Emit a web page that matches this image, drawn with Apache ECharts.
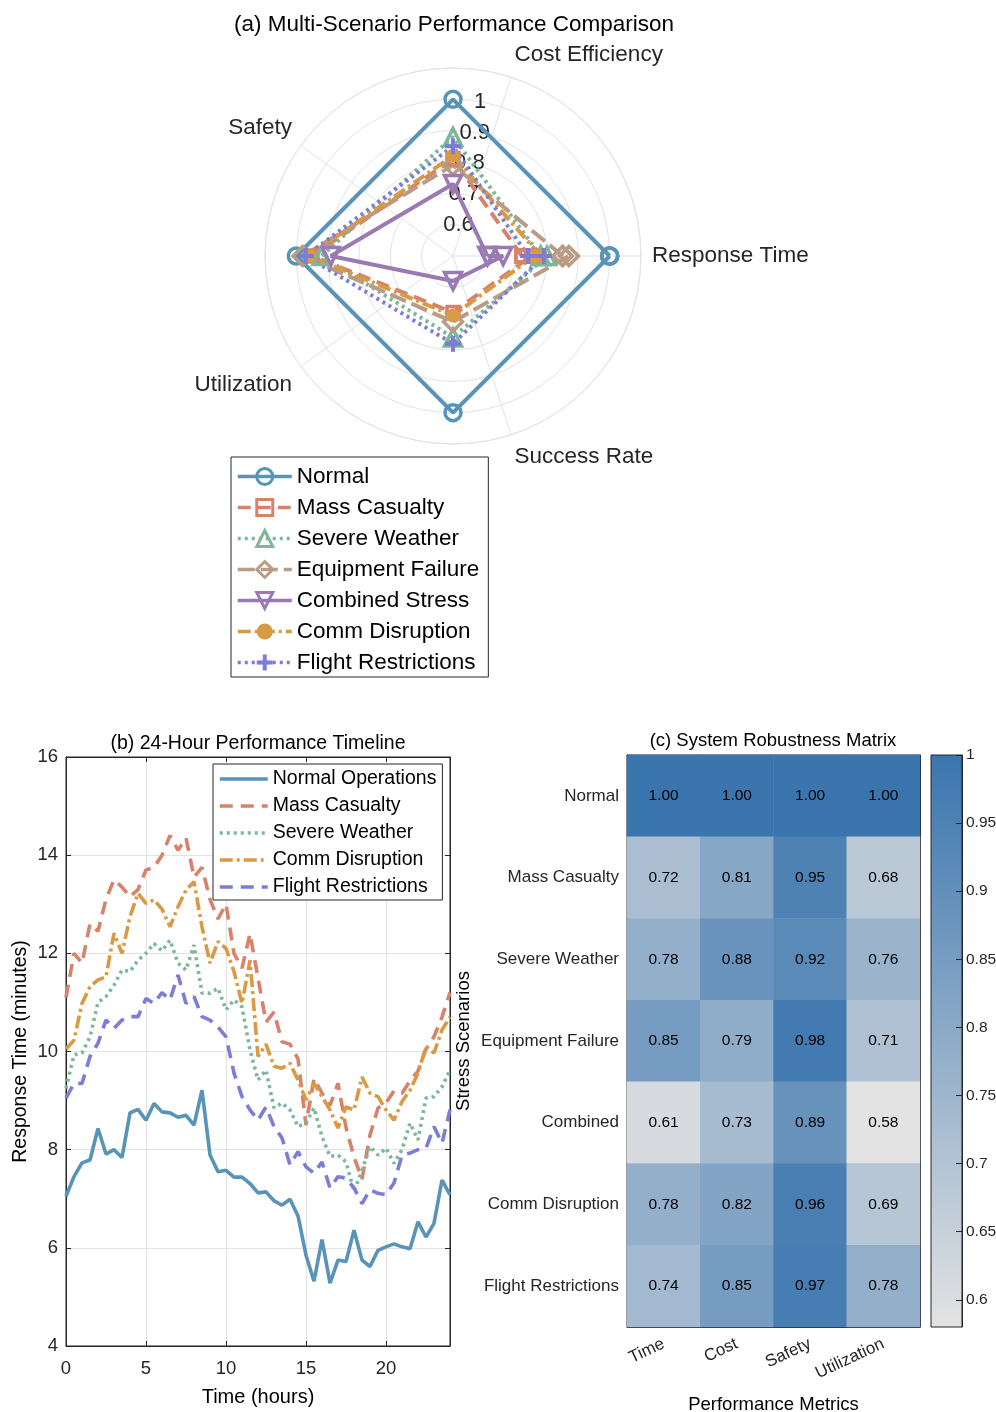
<!DOCTYPE html>
<html>
<head>
<meta charset="utf-8">
<script src="https://cdn.jsdelivr.net/npm/echarts@6/dist/echarts.min.js"></script>
<style>
  html, body { margin: 0; background: #fff; }
  #main { width: 996px; height: 1412px; }
</style>
</head>
<body>
<div id="main"></div>
<script>
// ---------- (a) radar ----------
const scenarios = ['Normal', 'Mass Casualty', 'Severe Weather', 'Equipment Failure', 'Combined Stress', 'Comm Disruption', 'Flight Restrictions']
const thetaLabels = ['Response Time', 'Cost Efficiency', 'Safety', 'Utilization', 'Success Rate']
const rLabels = [0.6, 0.7, 0.8, 0.9, 1]
// values placed at 0, 90, 180, 270, 360 deg (then closed back to the first)
const pointAngles = [0, 90, 180, 270, 360]
const radarNormal = [1.00, 1.00, 1.00, 1.00, 1.00]
const radarMass = [0.72, 0.81, 0.95, 0.68, 0.75]
const radarSevere = [0.78, 0.88, 0.92, 0.76, 0.80]
const radarEquip = [0.85, 0.79, 0.98, 0.71, 0.87]
const radarCombined = [0.61, 0.73, 0.89, 0.58, 0.66]
const radarComm = [0.78, 0.82, 0.96, 0.69, 0.76]
const radarFlight = [0.74, 0.85, 0.97, 0.78, 0.79]

// ---------- (b) timeline ----------
const hours = [0, 0.5, 1, 1.5, 2, 2.5, 3, 3.5, 4, 4.5, 5, 5.5, 6, 6.5, 7, 7.5, 8, 8.5, 9, 9.5, 10, 10.5, 11, 11.5,
  12, 12.5, 13, 13.5, 14, 14.5, 15, 15.5, 16, 16.5, 17, 17.5, 18, 18.5, 19, 19.5, 20, 20.5, 21, 21.5, 22, 22.5, 23, 23.5, 24]
const tlNormal = [7.05, 7.45, 7.73, 7.79, 8.43, 7.91, 8.0, 7.84, 8.75, 8.82, 8.6, 8.94, 8.77, 8.75, 8.66, 8.70, 8.5, 9.21, 7.89, 7.55,
  7.58, 7.44, 7.44, 7.31, 7.12, 7.14, 6.96, 6.87, 6.99, 6.65, 5.85, 5.32, 6.17, 5.28, 5.75, 5.72, 6.36, 5.75, 5.62, 5.95,
  6.02, 6.08, 6.02, 5.98, 6.53, 6.22, 6.5, 7.38, 7.08]
const tlMass = [11.1, 12.0, 11.8, 12.6, 12.45, 13.1, 13.5, 13.35, 13.15, 13.3, 13.7, 13.75, 14.0, 14.4, 14.1, 14.35, 13.55, 13.75, 13.1, 12.7,
  13.0, 12.0, 11.7, 12.4, 11.5, 10.6, 10.8, 10.2, 10.15, 9.85, 8.5, 9.45, 9.15, 8.9, 9.35, 8.45, 7.85, 7.4, 8.3, 8.85,
  8.95, 9.2, 9.15, 9.4, 9.6, 10.05, 10.3, 10.7, 11.2]
const tlSevere = [9.25, 9.93, 9.97, 10.3, 11.0, 11.12, 11.35, 11.66, 11.63, 11.86, 12.0, 12.2, 12.05, 12.27, 11.8, 11.66, 12.17, 11.19, 11.19, 11.29,
  10.85, 11.05, 10.91, 10.03, 9.42, 9.62, 8.85, 8.95, 8.81, 8.47, 8.54, 8.85, 8.27, 7.86, 7.89, 7.75, 7.15, 7.58, 8.06, 7.89,
  8.03, 7.72, 8.0, 8.54, 8.2, 9.05, 9.08, 9.28, 9.62]
const tlComm = [10.05, 10.23, 10.98, 11.32, 11.46, 11.52, 12.41, 12.0, 12.75, 13.22, 13.02, 13.09, 12.9, 12.54, 12.95, 13.29, 13.46, 12.54, 11.8, 12.24,
  12.1, 11.63, 10.98, 11.86, 9.9, 10.15, 9.7, 9.66, 9.76, 9.42, 9.01, 9.35, 9.08, 8.81, 8.44, 8.87, 8.81, 9.48, 9.15, 9.08,
  8.81, 8.6, 8.98, 9.21, 9.56, 10.1, 9.97, 10.44, 10.7]
const tlFlight = [9.05, 9.35, 9.35, 9.9, 10.17, 10.64, 10.47, 10.64, 10.71, 10.71, 11.08, 10.98, 11.2, 11.05, 11.56, 10.98, 11.12, 10.71, 10.64, 10.5,
  10.3, 9.56, 9.08, 8.81, 8.6, 8.87, 8.47, 8.24, 7.69, 7.96, 7.65, 7.52, 7.75, 7.22, 7.45, 7.42, 7.22, 6.9, 7.18, 7.11,
  7.08, 7.32, 7.89, 7.93, 8.0, 8.03, 8.47, 8.13, 8.81]

// ---------- (c) heatmap ----------
const metrics = ['Time', 'Cost', 'Safety', 'Utilization']
const heatRows = ['Normal', 'Mass Casualty', 'Severe Weather', 'Equipment Failure', 'Combined', 'Comm Disruption', 'Flight Restrictions']
const hmNormal = [1.00, 1.00, 1.00, 1.00]
const hmMass = [0.72, 0.81, 0.95, 0.68]
const hmSevere = [0.78, 0.88, 0.92, 0.76]
const hmEquip = [0.85, 0.79, 0.98, 0.71]
const hmCombined = [0.61, 0.73, 0.89, 0.58]
const hmComm = [0.78, 0.82, 0.96, 0.69]
const hmFlight = [0.74, 0.85, 0.97, 0.78]
const cbTicks = [0.6, 0.65, 0.7, 0.75, 0.8, 0.85, 0.9, 0.95, 1]
const cbMin = 0.58
const cbMax = 1
const cmapLow = '#e3e3e3'
const cmapHigh = '#3a75ae'

const colors = {
  normal: '#5893b8',
  mass: '#d7826b',
  severe: '#7db79b',
  equip: '#b99c84',
  combined: '#9a7ab3',
  comm: '#d99a44',
  flight: '#7c7ed6'
}
const FONT = 'Liberation Sans, Arial, sans-serif'
const AX = '#262626'
const GRIDC = '#e3e3e3'
const CLEAR = 'rgba(255,255,255,0)'

const plusPath = 'path://M3,0H5V3H8V5H5V8H3V5H0V3H3Z'

const radarSpec = [
  { name: scenarios[0], vals: radarNormal, color: colors.normal, dash: 'solid', symbol: 'circle', size: 16, hollow: true },
  { name: scenarios[1], vals: radarMass, color: colors.mass, dash: [13, 7], symbol: 'rect', size: 12, hollow: true },
  { name: scenarios[2], vals: radarSevere, color: colors.severe, dash: [3, 4], symbol: 'triangle', size: 17, hollow: true },
  { name: scenarios[3], vals: radarEquip, color: colors.equip, dash: [17, 6], symbol: 'diamond', size: 19, hollow: true },
  { name: scenarios[4], vals: radarCombined, color: colors.combined, dash: 'solid', symbol: 'triangle', size: 17, rotate: 180, hollow: true },
  { name: scenarios[5], vals: radarComm, color: colors.comm, dash: [13, 4, 3, 4], symbol: 'circle', size: 14 },
  { name: scenarios[6], vals: radarFlight, color: colors.flight, dash: [3, 4], symbol: plusPath, size: 16 }
]

const radarSeries = radarSpec.map(s => {
  const pts = s.vals.map((v, i) => [v, pointAngles[i]])
  pts.push([s.vals[0], pointAngles[0]])
  return {
    name: s.name,
    type: 'line',
    coordinateSystem: 'polar',
    polarIndex: 0,
    data: pts,
    symbol: s.symbol,
    symbolSize: s.size,
    symbolRotate: s.rotate || 0,
    lineStyle: { color: s.color, width: 4, type: s.dash },
    itemStyle: s.hollow
      ? { color: CLEAR, borderColor: s.color, borderWidth: 3.5 }
      : { color: s.color, borderWidth: 0 },
    z: 3,
    animation: false
  }
})

const tlSpec = [
  { name: 'Normal Operations', vals: tlNormal, color: colors.normal, dash: 'solid' },
  { name: 'Mass Casualty', vals: tlMass, color: colors.mass, dash: [13, 8] },
  { name: 'Severe Weather', vals: tlSevere, color: colors.severe, dash: [3, 4] },
  { name: 'Comm Disruption', vals: tlComm, color: colors.comm, dash: [13, 4, 3, 4] },
  { name: 'Flight Restrictions', vals: tlFlight, color: colors.flight, dash: [13, 8] }
]
const tlSeries = tlSpec.map(s => ({
  name: 'b:' + s.name,
  type: 'line',
  xAxisIndex: 0,
  yAxisIndex: 0,
  data: s.vals.map((v, i) => [hours[i], v]),
  symbol: 'none',
  lineStyle: { color: s.color, width: 3.6, type: s.dash },
  itemStyle: { color: s.color },
  animation: false
}))

const hmRows = [hmNormal, hmMass, hmSevere, hmEquip, hmCombined, hmComm, hmFlight]
const heatData = []
hmRows.forEach((row, r) => row.forEach((v, c) => heatData.push([c, r, v])))

// colorbar fill: same linear ramp the visualMap uses
const cbFill = new echarts.graphic.LinearGradient(0, 0, 0, 1, [
  { offset: 0, color: cmapHigh },
  { offset: 1, color: cmapLow }
])

const boxAxisLine = { show: true, onZero: false, lineStyle: { color: AX } }

const chart = echarts.init(document.getElementById('main'))
chart.setOption({
  backgroundColor: '#fff',
  animation: false,
  textStyle: { fontFamily: FONT },
  title: [
    { text: '(a) Multi-Scenario Performance Comparison', left: 449, top: 8, textAlign: 'center',
      textStyle: { fontSize: 22.5, fontWeight: 'normal', color: '#000', fontFamily: FONT } },
    { text: '(b) 24-Hour Performance Timeline', left: 253, top: 729, textAlign: 'center',
      textStyle: { fontSize: 19.5, fontWeight: 'normal', color: '#000', fontFamily: FONT } },
    { text: '(c) System Robustness Matrix', left: 768, top: 726, textAlign: 'center',
      textStyle: { fontSize: 18.5, fontWeight: 'normal', color: '#000', fontFamily: FONT } }
  ],
  legend: [
    {
      data: scenarios,
      orient: 'vertical',
      left: 231, top: 457,
      padding: [8, 9, 3, 5],
      itemGap: 8,
      itemWidth: 54, itemHeight: 20,
      itemStyle: { borderWidth: 3 },
      lineStyle: { width: 3.5 },
      borderColor: AX, borderWidth: 1, backgroundColor: '#fff',
      textStyle: { fontSize: 22.5, color: '#000', fontFamily: FONT },
      selectedMode: false
    },
    {
      data: tlSpec.map(s => 'b:' + s.name),
      formatter: n => n.replace('b:', ''),
      orient: 'vertical',
      left: 213, top: 764,
      padding: [5, 6, 3, 5],
      itemGap: 7,
      itemWidth: 48, itemHeight: 14,
      itemStyle: { opacity: 0 },
      lineStyle: { width: 3.5 },
      borderColor: AX, borderWidth: 1, backgroundColor: '#fff',
      textStyle: { fontSize: 19.5, color: '#000', fontFamily: FONT },
      selectedMode: false
    }
  ],
  polar: [
    { center: [453, 256], radius: 188 },
    { center: [453, 256], radius: 188 }
  ],
  angleAxis: [
    {
      polarIndex: 0, type: 'value', min: 0, max: 360, interval: 72,
      startAngle: 0, clockwise: false,
      axisLine: { show: true, lineStyle: { color: GRIDC, width: 1 } },
      axisTick: { show: false },
      splitLine: { show: true, lineStyle: { color: GRIDC, width: 1 } },
      axisLabel: {
        formatter: v => v < 360 ? (thetaLabels[Math.round(v / 72)] || '') : '',
        fontSize: 22.5, color: '#262626', margin: 11, fontFamily: FONT
      }
    },
    {
      polarIndex: 1, type: 'value', min: 0, max: 360, startAngle: 80, clockwise: false,
      axisLine: { show: false }, axisTick: { show: false }, axisLabel: { show: false }, splitLine: { show: false }
    }
  ],
  radiusAxis: [
    {
      polarIndex: 0, type: 'value', min: 0.5, max: 1.1, interval: 0.1,
      axisLine: { show: false }, axisTick: { show: false }, axisLabel: { show: false },
      splitLine: { show: true, lineStyle: { color: GRIDC, width: 1 } }
    },
    {
      polarIndex: 1, type: 'value', min: 0.5, max: 1.1, interval: 0.1,
      axisLine: { show: false }, axisTick: { show: false }, splitLine: { show: false },
      axisLabel: {
        formatter: v => {
          const r = Math.round(v * 10) / 10
          return rLabels.indexOf(r) >= 0 ? String(r) : ''
        },
        align: 'center', verticalAlign: 'middle',
        fontSize: 22, color: '#262626', margin: 0, fontFamily: FONT
      }
    }
  ],
  grid: [
    { left: 66, top: 757, width: 384, height: 589, outerBoundsMode: 'none', containLabel: false,
      show: true, borderColor: AX, borderWidth: 1, backgroundColor: 'transparent' },
    { left: 627, top: 755, width: 293, height: 572, outerBoundsMode: 'none', containLabel: false,
      show: true, borderColor: AX, borderWidth: 1, backgroundColor: 'transparent' },
    { left: 931, top: 755, width: 31, height: 572, outerBoundsMode: 'none', containLabel: false,
      show: true, borderColor: AX, borderWidth: 1, backgroundColor: cbFill }
  ],
  xAxis: [
    {
      gridIndex: 0, type: 'value', min: 0, max: 24, interval: 5,
      name: 'Time (hours)', nameLocation: 'middle', nameGap: 41,
      nameTextStyle: { fontSize: 20, color: '#000', fontFamily: FONT },
      axisLine: boxAxisLine,
      axisTick: { show: true, inside: true, length: 5, lineStyle: { color: AX } },
      axisLabel: { fontSize: 18.5, color: AX, margin: 13, showMaxLabel: false, fontFamily: FONT },
      splitLine: { show: true, lineStyle: { color: GRIDC } }
    },
    {
      gridIndex: 0, type: 'value', min: 0, max: 24, interval: 5, position: 'top',
      axisLine: boxAxisLine,
      axisTick: { show: true, inside: true, length: 5, lineStyle: { color: AX } },
      axisLabel: { show: false }, splitLine: { show: false }
    },
    {
      gridIndex: 1, type: 'category', data: metrics,
      name: 'Performance Metrics', nameLocation: 'middle', nameGap: 68,
      nameTextStyle: { fontSize: 18.5, color: '#000', fontFamily: FONT },
      axisLine: boxAxisLine,
      axisTick: { show: true, inside: true, alignWithLabel: true, length: 5, lineStyle: { color: AX } },
      axisLabel: { fontSize: 17, color: AX, rotate: 25, margin: 16, fontFamily: FONT },
      splitLine: { show: false }
    },
    {
      gridIndex: 1, type: 'category', data: metrics, position: 'top',
      axisLine: boxAxisLine,
      axisTick: { show: true, inside: true, alignWithLabel: true, length: 5, lineStyle: { color: AX } },
      axisLabel: { show: false }, splitLine: { show: false }
    },
    { gridIndex: 2, type: 'value', min: 0, max: 1, show: false }
  ],
  yAxis: [
    {
      gridIndex: 0, type: 'value', min: 4, max: 16, interval: 2,
      name: 'Response Time (minutes)', nameLocation: 'middle', nameGap: 35,
      nameTextStyle: { fontSize: 19.5, color: '#000', fontFamily: FONT },
      axisLine: boxAxisLine,
      axisTick: { show: true, inside: true, length: 5, lineStyle: { color: AX } },
      axisLabel: { fontSize: 18.5, color: AX, margin: 8, fontFamily: FONT },
      splitLine: { show: true, lineStyle: { color: GRIDC } }
    },
    {
      gridIndex: 0, type: 'value', min: 4, max: 16, interval: 2, position: 'right',
      axisLine: boxAxisLine,
      axisTick: { show: true, inside: true, length: 5, lineStyle: { color: AX } },
      axisLabel: { show: false }, splitLine: { show: false }
    },
    {
      gridIndex: 1, type: 'category', data: heatRows, inverse: true,
      name: 'Stress Scenarios', nameLocation: 'middle', nameGap: 154,
      nameTextStyle: { fontSize: 18.5, color: '#000', fontFamily: FONT },
      axisLine: boxAxisLine,
      axisTick: { show: true, inside: true, alignWithLabel: true, length: 5, lineStyle: { color: AX } },
      axisLabel: { fontSize: 17, color: AX, margin: 8, fontFamily: FONT },
      splitLine: { show: false }
    },
    {
      gridIndex: 1, type: 'category', data: heatRows, inverse: true, position: 'right',
      axisLine: boxAxisLine,
      axisTick: { show: true, inside: true, alignWithLabel: true, length: 5, lineStyle: { color: AX } },
      axisLabel: { show: false }, splitLine: { show: false }
    },
    {
      gridIndex: 2, type: 'value', min: cbMin, max: cbMax, position: 'right',
      axisLine: boxAxisLine,
      axisTick: { show: true, inside: true, length: 6, customValues: cbTicks, lineStyle: { color: AX } },
      axisLabel: { fontSize: 15.5, color: AX, margin: 4, customValues: cbTicks, fontFamily: FONT },
      splitLine: { show: false }
    }
  ],
  visualMap: {
    type: 'continuous',
    show: false,
    seriesIndex: radarSeries.length + tlSeries.length,
    min: cbMin, max: cbMax,
    inRange: { color: [cmapLow, cmapHigh] }
  },
  series: [
    ...radarSeries,
    ...tlSeries,
    {
      name: 'Robustness',
      type: 'heatmap',
      xAxisIndex: 2,
      yAxisIndex: 2,
      data: heatData,
      label: {
        show: true,
        formatter: p => p.value[2].toFixed(2),
        fontSize: 15.5, color: '#000', fontFamily: FONT
      },
      itemStyle: { borderWidth: 0 },
      animation: false
    }
  ]
})
</script>
</body>
</html>
